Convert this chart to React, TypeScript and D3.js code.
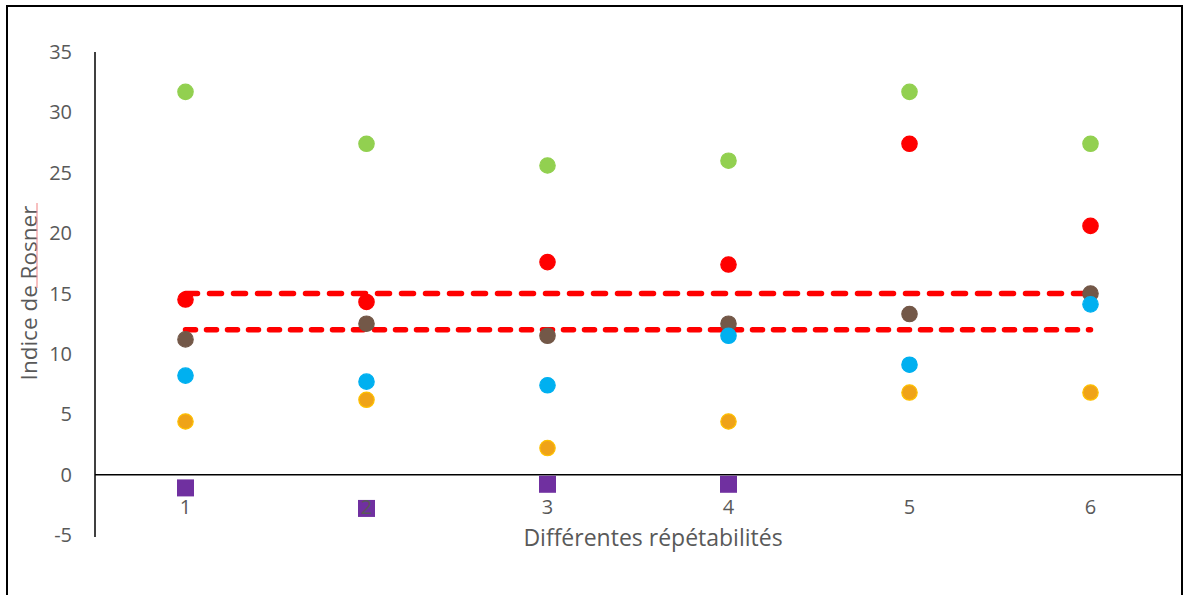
import React from "react";
import * as d3 from "d3";

const categories = [1, 2, 3, 4, 5, 6];
const green = [31.7, 27.4, 25.6, 26.0, 31.7, 27.4];
const red = [14.5, 14.3, 17.6, 17.4, 27.4, 20.6];
const brown = [11.2, 12.5, 11.5, 12.5, 13.3, 15.0];
const blue = [8.2, 7.7, 7.4, 11.5, 9.1, 14.1];
const orange = [4.4, 6.2, 2.2, 4.4, 6.8, 6.8];
const purpleX = [1, 2, 3, 4];
const purple = [-1.1, -2.8, -0.8, -0.8];
const yTicks = [-5, 0, 5, 10, 15, 20, 25, 30, 35];
const upperLimit = 15;
const lowerLimit = 12;

const font = "'Open Sans', 'Noto Sans', sans-serif";

export default function App() {
  const W = 1188, H = 595;
  const x = d3.scaleLinear().domain([0.5, 6.5]).range([95, 1181]);
  const y = d3.scaleLinear().domain([-5, 35]).range([535, 52]);
  const line = d3.line<[number, number]>().x(d => x(d[0])).y(d => y(d[1]));

  const circles = (vals: number[], fill: string, stroke: string, key: string) =>
    vals.map((v, i) => (
      <circle key={key + i} cx={x(categories[i])} cy={y(v)} r={7.7} fill={fill} stroke={stroke} strokeWidth={1.2} />
    ));

  return (
    <div style={{ position: "absolute", left: 0, top: 0 }}>
      <svg width={W} height={H} style={{ display: "block" }}>
        <rect x={0} y={0} width={W} height={H} fill="#fff" />
        <rect x={7} y={6} width={1175} height={600} fill="none" stroke="#000" strokeWidth={2} />
        {/* axes */}
        <line x1={95} x2={95} y1={52} y2={537} stroke="#000" strokeWidth={1.5} />
        <line x1={95} x2={1181} y1={y(0)} y2={y(0)} stroke="#000" strokeWidth={1.5} />
        {yTicks.map(t => (
          <text key={"yt" + t} x={72} y={y(t)} dy="0.35em" textAnchor="end" fontFamily={font} fontSize={20} fill="#595959">{t}</text>
        ))}
        <text x={653} y={538} dy="0.35em" textAnchor="middle" fontFamily={font} fontSize={23} fill="#595959">Différentes répétabilités</text>
        <text transform={`translate(29,293) rotate(-90)`} dy="0.35em" textAnchor="middle" fontFamily={font} fontSize={22.5} fill="#595959">Indice de Rosner</text>
        <line x1={37} x2={37} y1={203} y2={288} stroke="#F08080" strokeWidth={1} />
        {/* limits */}
        <path d={line([[1, upperLimit], [6, upperLimit]]) || ""} fill="none" stroke="#FF0000" strokeWidth={5.5} strokeDasharray="12 12" strokeLinecap="round" />
        <path d={line([[1, lowerLimit], [6, lowerLimit]]) || ""} fill="none" stroke="#FF0000" strokeWidth={5.5} strokeDasharray="10 11" strokeLinecap="round" />
        {/* points */}
        {circles(green, "#92D050", "#92D050", "g")}
        {circles(red, "#FF0000", "#FF0000", "r")}
        {circles(brown, "#735848", "#735848", "b")}
        {circles(blue, "#00B0F0", "#00B0F0", "bl")}
        {circles(orange, "#EFA318", "#FFC000", "o")}
        {purple.map((v, i) => (
          <rect key={"p" + i} x={x(purpleX[i]) - 8.5} y={y(v) - 8.5} width={17} height={17} fill="#7030A0" />
        ))}
        {categories.map(c => (
          <text key={"xt" + c} x={x(c)} y={507} dy="0.35em" textAnchor="middle" fontFamily={font} fontSize={20} fill="#595959">{c}</text>
        ))}
      </svg>
    </div>
  );
}
